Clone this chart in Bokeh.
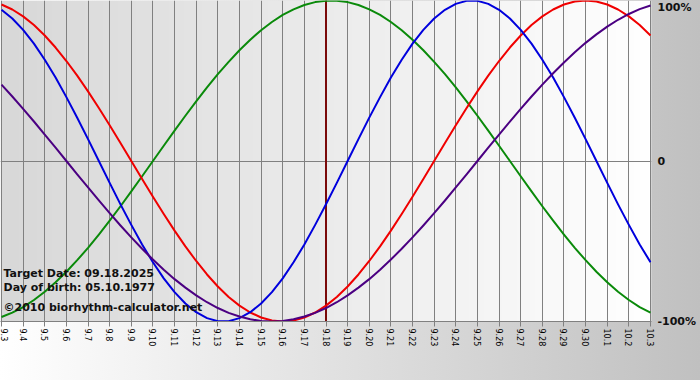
import math
import numpy as np
from bokeh.plotting import figure
from bokeh.models import FixedTicker, Label, Range1d
from bokeh.embed import file_html
from bokeh.resources import INLINE

# ---- data ---------------------------------------------------------------
day_labels = ["9.3", "9.4", "9.5", "9.6", "9.7", "9.8", "9.9", "9.10", "9.11",
              "9.12", "9.13", "9.14", "9.15", "9.16", "9.17", "9.18", "9.19",
              "9.20", "9.21", "9.22", "9.23", "9.24", "9.25", "9.26", "9.27",
              "9.28", "9.29", "9.30", "10.1", "10.2", "10.3"]

# readings every half day, from 9.3 to 10.3
intellectual = [-0.972, -0.945, -0.910, -0.866, -0.815, -0.756, -0.690, -0.618,
                -0.541, -0.458, -0.372, -0.282, -0.189, -0.095, 0.0, 0.095,
                0.189, 0.282, 0.372, 0.458, 0.541, 0.618, 0.690, 0.756, 0.815,
                0.866, 0.910, 0.945, 0.972, 0.990, 0.999, 0.999, 0.990, 0.972,
                0.945, 0.910, 0.866, 0.815, 0.756, 0.690, 0.618, 0.541, 0.458,
                0.372, 0.282, 0.189, 0.095, 0.0, -0.095, -0.189, -0.282,
                -0.372, -0.458, -0.541, -0.618, -0.690, -0.756, -0.815, -0.866,
                -0.910, -0.945]

emotional = [0.975, 0.944, 0.901, 0.847, 0.782, 0.707, 0.623, 0.532, 0.434,
             0.330, 0.223, 0.112, 0.0, -0.112, -0.223, -0.330, -0.434, -0.532,
             -0.623, -0.707, -0.782, -0.847, -0.901, -0.944, -0.975, -0.994,
             -1.0, -0.994, -0.975, -0.944, -0.901, -0.847, -0.782, -0.707,
             -0.623, -0.532, -0.434, -0.330, -0.223, -0.112, 0.0, 0.112, 0.223,
             0.330, 0.434, 0.532, 0.623, 0.707, 0.782, 0.847, 0.901, 0.944,
             0.975, 0.994, 1.0, 0.994, 0.975, 0.944, 0.901, 0.847, 0.782]

physical = [0.942, 0.888, 0.817, 0.731, 0.631, 0.520, 0.398, 0.270, 0.136,
            0.0, -0.136, -0.270, -0.398, -0.520, -0.631, -0.731, -0.817,
            -0.888, -0.942, -0.979, -0.998, -0.998, -0.979, -0.942, -0.888,
            -0.817, -0.731, -0.631, -0.520, -0.398, -0.270, -0.136, 0.0, 0.136,
            0.270, 0.398, 0.520, 0.631, 0.731, 0.817, 0.888, 0.942, 0.979,
            0.998, 0.998, 0.979, 0.942, 0.888, 0.817, 0.731, 0.631, 0.520,
            0.398, 0.270, 0.136, 0.0, -0.136, -0.270, -0.398, -0.520, -0.631]

intuitive = [0.476, 0.402, 0.325, 0.246, 0.165, 0.083, 0.0, -0.083, -0.165,
             -0.246, -0.325, -0.402, -0.476, -0.547, -0.614, -0.677, -0.736,
             -0.789, -0.837, -0.880, -0.916, -0.946, -0.969, -0.986, -0.997,
             -1.0, -0.997, -0.986, -0.969, -0.946, -0.916, -0.880, -0.837,
             -0.789, -0.736, -0.677, -0.614, -0.547, -0.476, -0.402, -0.325,
             -0.246, -0.165, -0.083, 0.0, 0.083, 0.165, 0.246, 0.325, 0.402,
             0.476, 0.547, 0.614, 0.677, 0.736, 0.789, 0.837, 0.880, 0.916,
             0.946, 0.969]

target_label = "9.18"
y_tick_values = [-1.0, 0.0, 0.957]
y_tick_labels = ["-100%", "0", "100%"]

series_names = ["INTELLECTUAL", "EMOTIONAL", "PHYSICAL", "INTUITIVE"]
series_colors = ["#0a8a0a", "#f00000", "#0000dd", "#4b0082"]
info_lines = ["Target Date: 09.18.2025", "Day of birth: 05.10.1977",
              "\u00a92010 biorhythm-calculator.net"]

# ---- figure --------------------------------------------------------------
days = list(range(len(day_labels)))
samples = np.arange(len(physical)) * 0.5   # half-day sampling positions
pad = 0.046
x0, x1 = days[0] - pad, days[-1] + pad

p = figure(frame_width=651, frame_height=321, output_backend="svg",
           toolbar_location=None,
           x_range=Range1d(x0, x1), y_range=Range1d(-1, 1),
           x_axis_location="below", y_axis_location="right",
           min_border_left=0, min_border_top=0, min_border_right=49,
           min_border_bottom=59)
p.styles = {"background": "linear-gradient(to right, #ffffff, #c0c0c0)"}
p.border_fill_alpha = 0
p.background_fill_alpha = 0
p.outline_line_color = None

# plot-area gradient (grey left -> white right)
n = 256
img = np.empty((1, n), dtype=np.uint32)
view = img.view(dtype=np.uint8).reshape((1, n, 4))
g = np.linspace(216, 255, n).astype(np.uint8)
view[0, :, 0] = g
view[0, :, 1] = g
view[0, :, 2] = g
view[0, :, 3] = 255
p.image_rgba(image=[img], x=x0, y=-1, dw=x1 - x0, dh=2, level="image")

# grids
p.xgrid.ticker = FixedTicker(ticks=days)
p.xgrid.grid_line_color = "#808080"
p.xgrid.grid_line_width = 1
p.ygrid.ticker = FixedTicker(ticks=[0])
p.ygrid.grid_line_color = "#808080"

# target day line
t = day_labels.index(target_label)
p.segment(x0=[t], y0=[-1], x1=[t], y1=[1], line_color="#7a0a0a", line_width=2)

# curves
for vals, col in zip([intellectual, emotional, physical, intuitive], series_colors):
    p.line(samples, vals, line_color=col, line_width=2, line_join="round")

# bottom axis
xa = p.xaxis[0]
xa.ticker = FixedTicker(ticks=days)
xa.major_label_overrides = {d: lab for d, lab in zip(days, day_labels)}
xa.major_label_orientation = -math.pi / 2
xa.major_label_text_font = "DejaVu Sans"
xa.major_label_text_font_size = "8px"
xa.major_label_text_color = "#000000"
xa.axis_line_color = "#808080"
xa.major_tick_line_color = "#808080"
xa.major_tick_out = 5
xa.major_tick_in = 0
xa.minor_tick_line_color = None
xa.major_label_standoff = 2

# right axis
ya = p.yaxis[0]
ya.ticker = FixedTicker(ticks=y_tick_values)
ya.major_label_overrides = {v: s for v, s in zip(y_tick_values, y_tick_labels)}
ya.major_label_text_font = "DejaVu Sans"
ya.major_label_text_font_style = "bold"
ya.major_label_text_font_size = "11px"
ya.major_label_text_color = "#111111"
ya.axis_line_color = None
ya.major_tick_line_color = None
ya.minor_tick_line_color = None
ya.major_tick_out = 0
ya.major_tick_in = 0
ya.major_label_standoff = 6

# info text in the plot area
for txt, yy in zip(info_lines, [48, 34, 14]):
    p.add_layout(Label(x=3, y=yy, x_units="screen", y_units="screen", text=txt,
                       text_font="DejaVu Sans", text_font_style="bold",
                       text_font_size="11px", text_color="#111111",
                       text_baseline="middle"))

# coloured legend words below the chart
for name, col, xx in zip(series_names, series_colors, [7, 107, 193, 262]):
    p.add_layout(Label(x=xx, y=-41, x_units="screen", y_units="screen", text=name,
                       text_font="DejaVu Sans", text_font_style="bold",
                       text_font_size="11px", text_color=col,
                       text_baseline="middle"))

open("out.html", "w").write(file_html(p, INLINE))
